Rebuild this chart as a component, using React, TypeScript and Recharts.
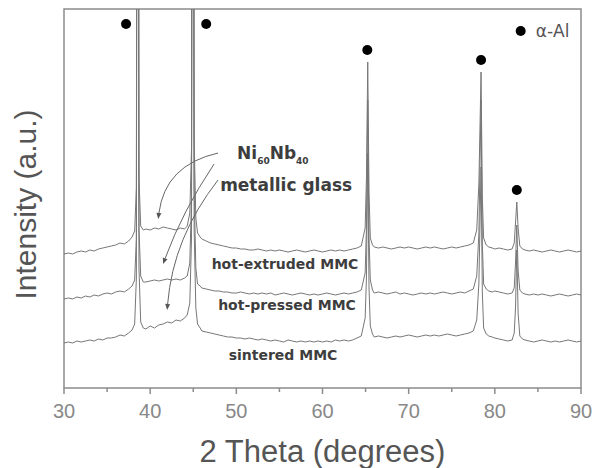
import React from "react";
import {
  ComposedChart,
  Line,
  Scatter,
  XAxis,
  YAxis,
  ReferenceArea,
  ReferenceDot,
  ReferenceLine,
} from "recharts";

// 2 theta positions (degrees), finer steps around the Al reflections
const twoTheta = [
  30, 30.5, 31, 31.5, 32, 32.5, 33, 33.5, 34, 34.5, 35, 35.5, 36, 36.5, 37, 37.5, 37.9,
  38.2, 38.4, 38.55, 38.7, 38.9, 39.2,
  39.5, 40, 40.5, 41, 41.5, 42, 42.5, 43, 43.5, 44, 44.3,
  44.6, 44.8, 44.95, 45.1, 45.3, 45.5,
  45.8, 46, 46.5, 47, 47.5, 48, 48.5, 49, 49.5, 50, 50.5, 51, 51.5, 52, 52.5, 53, 53.5,
  54, 54.5, 55, 55.5, 56, 56.5, 57, 57.5, 58, 58.5, 59, 59.5, 60, 60.5, 61, 61.5, 62,
  62.5, 63, 63.5, 64, 64.5,
  64.95, 65.1, 65.25, 65.4, 65.55,
  65.8, 66, 66.5, 67, 67.5, 68, 68.5, 69, 69.5, 70, 70.5, 71, 71.5, 72, 72.5, 73, 73.5,
  74, 74.5, 75, 75.5, 76, 76.5, 77, 77.5,
  77.9, 78.15, 78.4, 78.55, 78.7,
  79, 79.3, 79.7, 80, 80.5, 81, 81.5, 82,
  82.25, 82.4, 82.55, 82.7, 82.9,
  83.2, 83.5, 84, 84.5, 85, 85.5, 86, 86.5, 87, 87.5, 88, 88.5, 89, 89.5, 90,
];

// intensities (a.u.), traces already offset as in the figure
const sintered = [
  45, 46, 45, 47, 46, 47, 48, 47, 49, 48, 50, 50, 51, 53, 52, 55, 58,
  64, 110, 1300, 120, 66, 60,
  59, 62, 60, 63, 64, 66, 65, 68, 67, 70, 73,
  85, 150, 1300, 160, 80, 64,
  60, 57, 56, 55, 54, 53, 52, 51, 51, 50, 50, 49, 50, 49, 48, 49, 48,
  47, 48, 47, 46, 48, 47, 46, 47, 46, 47, 46, 47, 46, 47, 46, 48,
  47, 48, 47, 48, 50, 52,
  70, 110, 235, 100, 62,
  54, 51, 52, 51, 50, 51, 52, 51, 52, 53, 52, 51, 52, 53, 52, 53, 52,
  53, 54, 53, 52, 53, 54, 55, 57,
  68, 105, 221, 95, 60,
  54, 52, 51, 50, 49, 48, 47, 48,
  55, 80, 138, 75, 52,
  49, 48, 47, 46, 47, 48, 47, 46, 47, 46, 47, 48, 47, 46, 47,
];

const hotPressed = [
  89, 90, 89, 91, 90, 92, 91, 93, 92, 94, 95, 94, 96, 97, 96, 99, 102,
  108, 150, 1300, 160, 112, 106,
  106, 107, 108, 107, 108, 109, 108, 109, 108, 110, 112,
  125, 190, 1300, 200, 120, 104,
  102, 100, 99, 98, 97, 97, 96, 96, 95, 95, 96, 95, 94, 95, 94, 95, 94,
  95, 93, 94, 95, 94, 93, 94, 95, 94, 93, 94, 93, 94, 95, 94, 93,
  94, 95, 94, 95, 96, 98,
  115, 160, 288, 150, 108,
  98, 95, 96, 95, 94, 95, 96, 94, 95, 94, 93, 94, 95, 94, 95, 94, 95,
  96, 95, 94, 95, 96, 95, 97, 99,
  112, 155, 288, 145, 104,
  99, 97, 96, 97, 96, 95, 94, 95,
  100, 125, 163, 118, 98,
  95, 94, 93, 94, 93, 94, 93, 92, 93, 94, 93, 92, 93, 94, 93,
];

const hotExtruded = [
  134, 135, 134, 136, 137, 136, 138, 137, 139, 140, 141, 142, 143, 145, 144, 147, 151,
  157, 200, 1300, 210, 162, 158,
  159, 158, 160, 159, 161, 160, 159, 158, 160, 159, 162,
  175, 240, 1300, 250, 170, 155,
  151, 149, 147, 145, 144, 143, 142, 141, 140, 140, 139, 139, 138, 138, 139, 138, 137,
  138, 137, 138, 137, 136, 137, 138, 137, 136, 137, 138, 137, 136, 137, 138, 137,
  138, 137, 138, 139, 140, 142,
  160, 210, 326, 195, 150,
  143, 141, 140, 141, 140, 139, 140, 141, 140, 141, 140, 139, 140, 141, 140, 141, 140,
  139, 140, 141, 140, 141, 142, 143, 145,
  158, 205, 316, 190, 150,
  143, 141, 140, 139, 140, 139, 138, 139,
  145, 165, 186, 160, 142,
  139, 138, 137, 138, 137, 136, 137, 138, 137, 136, 137, 138, 137, 136, 137,
];

// alpha-Al peak markers
const markerTheta = [37.2, 46.5, 65.2, 78.4, 82.55];
const markerHeight = [364, 364, 338, 328, 198];

const xTicks = [30, 35, 40, 45, 50, 55, 60, 65, 70, 75, 80, 85, 90];

const rows = twoTheta.map((t, i) => ({
  twoTheta: t,
  sintered: sintered[i],
  hotPressed: hotPressed[i],
  hotExtruded: hotExtruded[i],
}));

const markers = markerTheta.map((t, i) => ({ twoTheta: t, mark: markerHeight[i] }));

const AXIS = "#8c8c8c";
const TRACE = "#777";
const NOTE = "#3d3d3d";
const SANS = "'Liberation Sans', Arial, sans-serif";
const WIDE = "'DejaVu Sans', Verdana, sans-serif";

const AxisTick = (props: any) => {
  const { x, y, payload } = props;
  const major = payload.value % 10 === 0;
  return (
    <g>
      <line x1={x} x2={x} y1={y} y2={y + (major ? 6 : 4)} stroke={AXIS} strokeWidth={1.5} />
      {major && (
        <text x={x} y={y + 30} textAnchor="middle" fontSize={20} fill="#888" fontFamily={SANS}>
          {payload.value}
        </text>
      )}
    </g>
  );
};

const curvedArrow = (bend: number) => (p: any) => {
  const { x1, y1, x2, y2 } = p;
  const dx = x2 - x1;
  const dy = y2 - y1;
  const cx = (x1 + x2) / 2 - dy * bend;
  const cy = (y1 + y2) / 2 + dx * bend;
  const ux0 = x2 - cx;
  const uy0 = y2 - cy;
  const len = Math.hypot(ux0, uy0) || 1;
  const ux = ux0 / len;
  const uy = uy0 / len;
  const bx = x2 - ux * 6;
  const by = y2 - uy * 6;
  const head = `${x2},${y2} ${bx - uy * 2.5},${by + ux * 2.5} ${bx + uy * 2.5},${by - ux * 2.5}`;
  return (
    <g>
      <path d={`M${x1},${y1} Q${cx},${cy} ${bx},${by}`} fill="none" stroke="#666" strokeWidth={1} />
      <polygon points={head} fill="#555" />
    </g>
  );
};

const note = (text: string, size: number, anchor: "start" | "middle") => (p: any) => (
  <text
    x={p.cx}
    y={p.cy}
    textAnchor={anchor}
    fontSize={size}
    fontWeight="bold"
    fontFamily={WIDE}
    fill={NOTE}
  >
    {text}
  </text>
);

const glassTitle = (p: any) => (
  <text x={p.cx} y={p.cy} fontSize={17} fontWeight="bold" fontFamily={WIDE} fill={NOTE}>
    Ni
    <tspan fontSize={9} dy={5}>60</tspan>
    <tspan dy={-5}>Nb</tspan>
    <tspan fontSize={9} dy={5}>40</tspan>
  </text>
);

const legendMark = (p: any) => (
  <g>
    <circle cx={p.cx} cy={p.cy} r={5} fill="#000" />
    <text x={p.cx + 15} y={p.cy + 6} fontSize={17} fill="#555" fontFamily={WIDE}>
      α-Al
    </text>
  </g>
);

const XTitle = (props: any) => {
  const vb = props.viewBox;
  return (
    <text x={vb.x + vb.width / 2} y={vb.y + 74} textAnchor="middle" fontSize={31} fill="#555" fontFamily={SANS}>
      2 Theta (degrees)
    </text>
  );
};

const YTitle = (props: any) => {
  const vb = props.viewBox;
  const x = vb.x + 36;
  const y = vb.y + vb.height / 2 + 6;
  return (
    <text
      x={x}
      y={y}
      transform={`rotate(-90, ${x}, ${y})`}
      textAnchor="middle"
      fontSize={30}
      fill="#555"
      fontFamily={SANS}
    >
      Intensity (a.u.)
    </text>
  );
};

export default function App() {
  return (
    <div style={{ position: "absolute", left: 0, top: 0, width: 602, height: 468, background: "#fff" }}>
      <ComposedChart
        width={602}
        height={468}
        data={rows}
        margin={{ top: 9, right: 21, left: 0, bottom: 50 }}
      >
        <XAxis
          dataKey="twoTheta"
          type="number"
          domain={[30, 90]}
          ticks={xTicks}
          allowDataOverflow
          height={30}
          axisLine={false}
          tickLine={false}
          tickSize={0}
          tickMargin={0}
          tick={<AxisTick />}
          interval={0}
          label={{ content: (p: any) => <XTitle {...p} /> }}
        />
        <YAxis
          type="number"
          domain={[0, 379]}
          allowDataOverflow
          width={64}
          tick={false}
          axisLine={false}
          tickLine={false}
          label={{ content: (p: any) => <YTitle {...p} /> }}
        />
        <Line dataKey="sintered" type="linear" stroke={TRACE} strokeWidth={1} dot={false} isAnimationActive={false} />
        <Line dataKey="hotPressed" type="linear" stroke={TRACE} strokeWidth={1} dot={false} isAnimationActive={false} />
        <Line dataKey="hotExtruded" type="linear" stroke={TRACE} strokeWidth={1} dot={false} isAnimationActive={false} />
        <Scatter
          data={markers}
          dataKey="mark"
          name="α-Al"
          isAnimationActive={false}
          shape={(p: any) => <circle cx={p.cx} cy={p.cy} r={5} fill="#000" />}
        />
        <ReferenceLine segment={[{ x: 47.88, y: 235 }, { x: 40.93, y: 169 }]} shape={curvedArrow(0.35)} />
        <ReferenceLine segment={[{ x: 47.42, y: 224 }, { x: 41.5, y: 124 }]} shape={curvedArrow(0.06)} />
        <ReferenceLine segment={[{ x: 47.88, y: 208 }, { x: 41.97, y: 78 }]} shape={curvedArrow(0.15)} />
        <ReferenceDot x={50.09} y={229} r={0} shape={glassTitle} />
        <ReferenceDot x={48.12} y={197} r={0} shape={note("metallic glass", 17, "start")} />
        <ReferenceDot x={55.65} y={119} r={0} shape={note("hot-extruded MMC", 14, "middle")} />
        <ReferenceDot x={55.88} y={78} r={0} shape={note("hot-pressed MMC", 14, "middle")} />
        <ReferenceDot x={55.42} y={28} r={0} shape={note("sintered MMC", 14, "middle")} />
        <ReferenceDot x={83.0} y={357} r={0} shape={legendMark} />
        <ReferenceArea x1={30} x2={90} y1={0} y2={379} fill="none" fillOpacity={0} stroke={AXIS} strokeWidth={1.5} />
      </ComposedChart>
    </div>
  );
}
